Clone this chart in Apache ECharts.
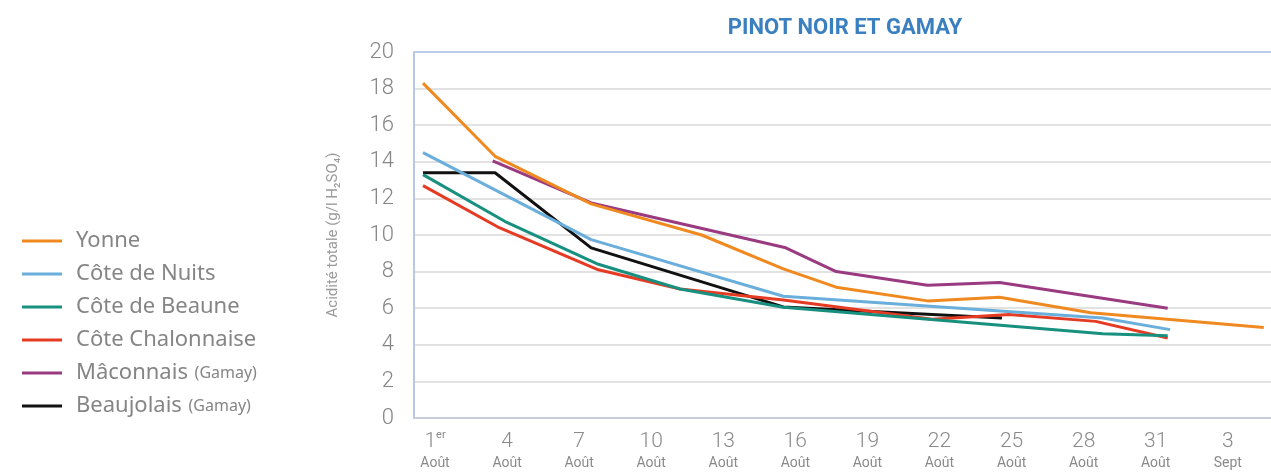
<!DOCTYPE html>
<html>
<head>
<meta charset="utf-8">
<script src="https://cdn.jsdelivr.net/npm/echarts@6/dist/echarts.min.js"></script>
<style>
html,body{margin:0;padding:0;background:#fff;}
#chart{width:1271px;height:475px;}
</style>
</head>
<body>
<div id="chart"></div>
<script>
var myChart = echarts.init(document.getElementById('chart'));

// jour du mois d'août (32 = 1er sept), acidité totale
var yonne = [[1,18.3],[4,14.3],[8,11.7],[12.6,10.0],[16,8.15],[18.2,7.15],[22,6.4],[25,6.6],[28.8,5.75],[36,4.95]];
var coteNuits = [[1,14.5],[8,9.75],[16,6.65],[29.3,5.47],[32.1,4.83]];
var coteBeaune = [[1,13.3],[4.4,10.75],[8.3,8.4],[11.7,7.05],[16,6.05],[29.3,4.6],[32,4.5]];
var coteChalonnaise = [[1,12.7],[4.1,10.45],[8.3,8.1],[11.7,7.05],[16,6.45],[22.2,5.4],[25.4,5.65],[29,5.28],[32,4.37]];
var maconnais = [[3.9,14.05],[8,11.75],[16.1,9.3],[18.2,8.0],[22,7.25],[25,7.4],[32,6.0]];
var beaujolais = [[1,13.4],[4,13.4],[8,9.3],[16,6.07],[25.1,5.46]];

var seriesNames = ['Yonne','Côte de Nuits','Côte de Beaune','Côte Chalonnaise','Mâconnais (Gamay)','Beaujolais (Gamay)'];
var seriesColors = ['#f0891f','#6aaedb','#17907f','#e63b23','#9a3a80','#111111'];

var tickDays = [1,4,7,10,13,16,19,22,25,28,31,34];
var tickNums = ['1','4','7','10','13','16','19','22','25','28','31','3'];
var tickMonths = ['Août','Août','Août','Août','Août','Août','Août','Août','Août','Août','Août','Sept'];

var yTicks = [0,2,4,6,8,10,12,14,16,18,20];

var allData = [yonne,coteNuits,coteBeaune,coteChalonnaise,maconnais,beaujolais];
var series = [];
for(var i=0;i<allData.length;i++){
    series.push({
        name:seriesNames[i],
        type:'line',
        data:allData[i],
        symbol:'none',
        xAxisIndex:0,
        lineStyle:{width:3,color:seriesColors[i]},
        itemStyle:{color:seriesColors[i]},
        z:10-i
    });
}
// les libellés sont centrés sur la journée (décalage d'une demi-journée)
var labelPos = tickDays.map(function(d){return d+0.5;});

var option = {
    backgroundColor:'#fff',
    animation:false,
    title:{
        text:'PINOT NOIR ET GAMAY',
        left:840,
        top:12,
        textAlign:'center',
        textStyle:{
            color:'#3a7fc0',
            fontFamily:'Roboto',
            fontWeight:'bold',
            fontSize:22
        }
    },
    legend:{
        orient:'vertical',
        left:22,
        top:230,
        padding:0,
        itemGap:11,
        itemWidth:40,
        itemHeight:3,
        icon:'rect',
        data:seriesNames,
        formatter:function(name){
            var k = name.indexOf(' (');
            if(k>0) return '{a|'+name.substring(0,k)+'}  {b|'+name.substring(k+1)+'}';
            return '{a|'+name+'}';
        },
        textStyle:{
            padding:[0,0,0,9],
            rich:{
                a:{fontFamily:'Noto Sans',fontSize:22,color:'#858585',lineHeight:26},
                b:{fontFamily:'Noto Sans',fontSize:16,color:'#858585',lineHeight:26}
            }
        }
    },
    grid:{
        left:414,
        right:0,
        top:52,
        bottom:57
    },
    xAxis:[
        {
            type:'value',
            min:0.625,
            max:36.3,
            axisLine:{show:true,lineStyle:{color:'#c6ccd8',width:2}},
            axisTick:{show:false},
            splitLine:{show:false},
            axisLabel:{
                customValues:labelPos,
                margin:12,
                formatter:function(v){
                    var i = Math.round((v-1.5)/3);
                    var n = tickNums[i];
                    if(i===0) return '{n|'+n+'}{s|er}\n{m|'+tickMonths[i]+'}';
                    return '{n|'+n+'}\n{m|'+tickMonths[i]+'}';
                },
                rich:{
                    n:{fontFamily:'Roboto',fontSize:21,color:'#8a8a8a',lineHeight:24,fontWeight:300},
                    s:{fontFamily:'Roboto',fontSize:11,color:'#8a8a8a',lineHeight:24,verticalAlign:'top'},
                    m:{fontFamily:'Roboto',fontSize:14,color:'#8a8a8a',lineHeight:18}
                }
            }
        },
        {
            type:'value',
            position:'top',
            min:0.625,
            max:36.3,
            axisLine:{show:true,lineStyle:{color:'#bccbea',width:2}},
            axisTick:{show:false},
            axisLabel:{show:false},
            splitLine:{show:false}
        }
    ],
    yAxis:{
        type:'value',
        min:yTicks[0],
        max:yTicks[yTicks.length-1],
        interval:2,
        name:'Acidité totale (g/l H₂SO₄)',
        nameLocation:'middle',
        nameRotate:90,
        nameGap:73,
        nameTextStyle:{fontFamily:'Roboto',fontSize:15,color:'#9a9a9a'},
        axisLine:{show:true,lineStyle:{color:'#b8c8e8',width:2}},
        axisTick:{show:false},
        axisLabel:{
            margin:20,
            fontFamily:'Roboto',
            fontWeight:300,
            fontSize:22,
            color:'#858585'
        },
        splitLine:{show:true,lineStyle:{color:'#d9d9d9',width:1.5}}
    },
    series:series
};
myChart.setOption(option);
</script>
</body>
</html>
